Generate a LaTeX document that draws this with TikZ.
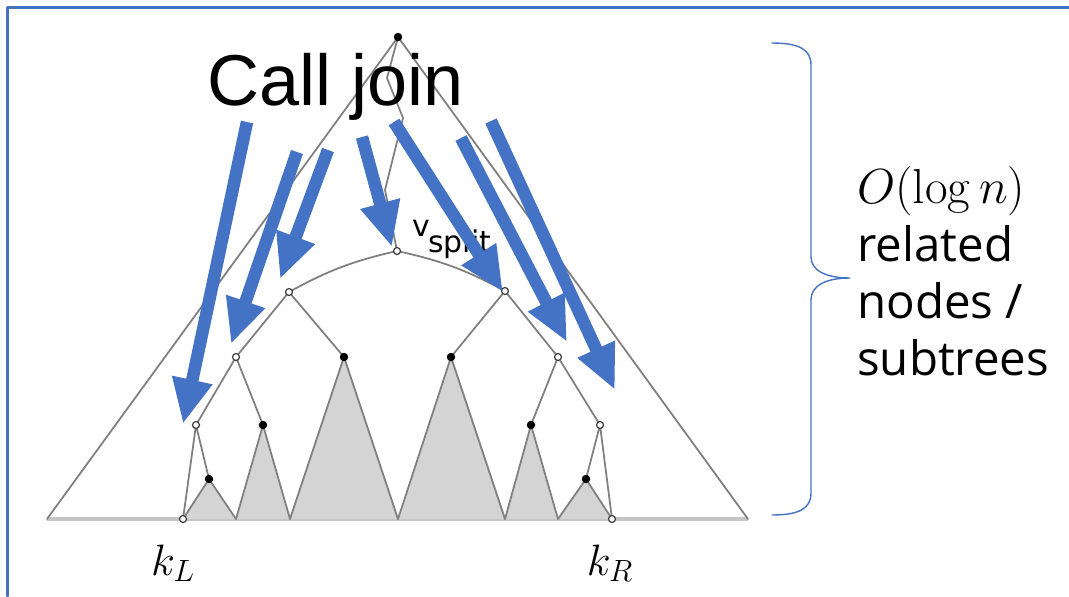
\RequirePackage{fix-cm}
\documentclass[tikz,border=0pt]{standalone}
\usepackage[no-math]{fontspec}
\setmainfont{Liberation Sans}
\newfontfamily\notefont{Open Sans}
\newfontfamily\labelfont{DejaVu Sans}
\usetikzlibrary{arrows.meta}
\definecolor{joinblue}{HTML}{4472C4}
\definecolor{edgegray}{HTML}{7F7F7F}
\definecolor{treegray}{HTML}{D4D4D4}
\definecolor{basegray}{HTML}{C4C4C4}
\begin{document}
\begin{tikzpicture}[x=0.02cm, y=-0.02cm, line join=round, line cap=round,
	edge/.style={edgegray, line width=1pt},
	subtree/.style={fill=treegray, draw=edgegray, line width=1pt},
	opennode/.style={circle, draw=black!75, fill=white, line width=0.7pt, inner sep=0pt, minimum size=0.14cm},
	fullnode/.style={circle, fill=black, inner sep=0pt, minimum size=0.17cm},
	joinarrow/.style={joinblue, line width=0.25cm, line cap=butt, -{Triangle[length=0.9cm, width=0.76cm]}},
	txt/.style={anchor=base west, inner sep=0pt}]
	\useasboundingbox (0,0) rectangle (1069,596);
	
	% Khung
	\draw[joinblue, line width=1.4pt] (7.5,596) -- (7.5,7.5) -- (1069,7.5);
	
	% Khai báo điểm
	\foreach \name/\x/\y in {
		root/398/37, bl/47/519, br/748/519,
		z1/387/78, z2/403/118, z3/385/190,
		vs/397/251, l1/289/292, l2/236/357, l3/196/425, kl/183/519,
		r1/505/291, r2/558/357, r3/600/425, kr/612/519,
		f1/344/357, f2/263/425, f3/209/479, f4/451/357, f5/531/425, f6/586/479,
		b1/236/519, b2/290/519, b3/398/519, b4/505/519, b5/558/519
	}{
		\coordinate (\name) at (\x,\y);
	}
	
	% Cây lớn
	\draw[basegray, line width=2pt, line cap=butt] (bl) -- (br);
	\draw[edge] (bl) -- (root) -- (br);
	\draw[edge] (root) -- (z1) -- (z2) -- (z3) -- (vs);
	
	% Cây con
	\foreach \p/\a/\q in {kl/f3/b1, b1/f2/b2, b2/f1/b3, b3/f4/b4, b4/f5/b5, b5/f6/kr}{
		\draw[subtree] (\p) -- (\a) -- (\q);
	}
	
	% Đường đi
	\draw[edge] (l1) to[bend left=8] (vs);
	\draw[edge] (vs) to[bend left=8] (r1);
	\draw[edge] (l1)--(l2) (l1)--(f1) (l2)--(l3) (l2)--(f2) (l3)--(kl) (l3)--(f3)
		(r1)--(f4) (r1)--(r2) (r2)--(f5) (r2)--(r3) (r3)--(f6) (r3)--(kr);
	
	\foreach \p in {vs, l1, l2, l3, kl, r1, r2, r3, kr}{
		\node[opennode] (n-\p) at (\p) {};
	}
	\foreach \p in {root, f1, f2, f3, f4, f5, f6}{
		\node[fullnode] (n-\p) at (\p) {};
	}
	
	% Nhãn
	\node[txt, font=\labelfont\fontsize{17}{17}\selectfont] (vlbl) at (412,236) {v};
	\node[txt, font=\labelfont\fontsize{17}{17}\selectfont] (slbl) at (428,252) {split};
	\node[anchor=base, inner sep=0pt, font=\fontsize{25}{25}\selectfont] (kL) at (173,575) {$k_L$};
	\node[anchor=base, inner sep=0pt, font=\fontsize{25}{25}\selectfont] (kR) at (610,575) {$k_R$};
	
	% Mũi tên
	\foreach \i/\x/\y/\u/\v in {
		1/247/122/183/424, 2/297/152/231/344, 3/328/150/280/279,
		4/362/137/392/247, 5/394/122/503/292, 6/461/138/567/342,
		7/491/121/615/390
	}{
		\coordinate (s\i) at (\x,\y);
		\coordinate (t\i) at (\u,\v);
		\draw[joinarrow] (s\i) -- (t\i);
	}
	
	\node[txt, font=\fontsize{41}{41}\selectfont] (call) at (207,105) {Call join};
	
	% Ngoặc
	\draw[joinblue, line width=0.8pt] (772,43) .. controls (800,43) and (811,50) .. (811,65)
		-- (811,257) .. controls (811,270) and (825,278) .. (850,278)
		.. controls (825,278) and (811,286) .. (811,300)
		-- (811,493) .. controls (811,508) and (800,515) .. (772,515);
	
	\node[txt, font=\fontsize{28}{28}\selectfont] (bound) at (857,203) {$O(\log n)$};
	\foreach \t/\y in {related/261, {nodes /}/318, subtrees/375}{
		\node[txt, font=\notefont\fontsize{27}{27}\selectfont] at (857,\y) {\t};
	}
\end{tikzpicture}
\end{document}
